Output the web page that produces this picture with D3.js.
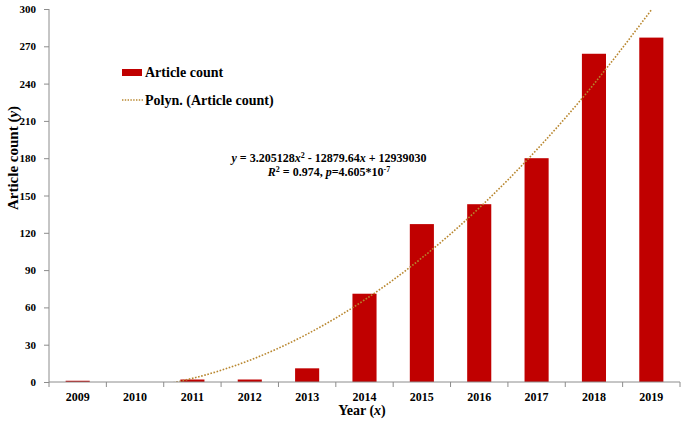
<!DOCTYPE html>
<html><head><meta charset="utf-8">
<script src="https://cdn.jsdelivr.net/npm/d3@7/dist/d3.min.js"></script>
<style>
body{margin:0;background:#fff;}
text{font-family:"Liberation Serif","Times New Roman",serif;font-weight:bold;fill:#000;}
</style></head><body>
<svg id="c" width="685" height="425"></svg>
<script>
const years = ["2009","2010","2011","2012","2013","2014","2015","2016","2017","2018","2019"];
const counts = [1,0,2,2,11,71,127,143,180,264,277];
// polynomial trendline values at each year (negatives are clipped by the axis)
const trendValues = [-7.1,-5.2,2.9,17.5,38.5,66.0,99.8,140.0,186.7,239.7,299.2];
const yTicks = [0,30,60,90,120,150,180,210,240,270,300];

const svg = d3.select("#c");
const L = 49, R = 680, T = 9, B = 382;
const x = d3.scaleBand().domain(years).range([L,R]).paddingInner(0.58).paddingOuter(0.29);
const y = d3.scaleLinear().domain([0,300]).range([B,T]);
const axisColor = "#8c8c8c";

svg.append("defs").append("clipPath").attr("id","plot")
  .append("rect").attr("x",L).attr("y",T).attr("width",R-L).attr("height",B-T);

// bars
svg.append("g").selectAll("rect").data(years).join("rect")
  .attr("x",d=>x(d)).attr("width",x.bandwidth())
  .attr("y",(d,i)=>y(counts[i])).attr("height",(d,i)=>B-y(counts[i]))
  .attr("fill","#C00000");

// trend line
const cx = d=>x(d)+x.bandwidth()/2;
const line = d3.line().x((d,i)=>cx(years[i])).y(d=>y(d)).curve(d3.curveNatural);
svg.append("path").attr("d",line(trendValues)).attr("clip-path","url(#plot)")
  .attr("fill","none").attr("stroke","#B8862E").attr("stroke-width",1.6)
  .attr("stroke-dasharray","1.6,1.6");

// y axis
const ya = svg.append("g").attr("transform",`translate(${L},0)`)
  .call(d3.axisLeft(y).tickValues(yTicks).tickSize(5).tickPadding(8));
ya.select(".domain").attr("stroke",axisColor).attr("d",`M0,${T}V${B}`);
ya.selectAll(".tick line").attr("stroke",axisColor);
ya.selectAll(".tick text").style("font-size","11px");
ya.attr("font-family",null).attr("font-size",null);

// x axis
const xa = svg.append("g").attr("transform",`translate(0,${B})`)
  .call(d3.axisBottom(x).tickSize(0).tickPadding(10));
xa.select(".domain").attr("stroke",axisColor).attr("d",`M${L},0H${R}`);
xa.selectAll(".tick text").style("font-size","12px");
xa.attr("font-family",null).attr("font-size",null);
const bounds = years.map((d,i)=>L + i*x.step()).concat([R]);
xa.selectAll(".bt").data(bounds).join("line").attr("class","bt")
  .attr("x1",d=>d).attr("x2",d=>d).attr("y1",0).attr("y2",5).attr("stroke",axisColor);

// axis titles
svg.append("text").attr("x",362).attr("y",415).attr("text-anchor","middle")
  .style("font-size","14px").html('Year (<tspan font-style="italic">x</tspan>)');
svg.append("text").attr("transform","translate(18,158) rotate(-90)").attr("text-anchor","middle")
  .style("font-size","15px").html('Article count (<tspan font-style="italic">y</tspan>)');

// legend
svg.append("rect").attr("x",122).attr("y",69).attr("width",20).attr("height",7).attr("fill","#C00000");
svg.append("text").attr("x",145).attr("y",77).style("font-size","14px").text("Article count");
svg.append("line").attr("x1",122).attr("x2",143).attr("y1",100).attr("y2",100)
  .attr("stroke","#B8862E").attr("stroke-width",1.4).attr("stroke-dasharray","1.4,1.4");
svg.append("text").attr("x",145).attr("y",105).style("font-size","14px").text("Polyn. (Article count)");

// equation
svg.append("text").attr("x",329).attr("y",162).attr("text-anchor","middle").style("font-size","12px")
  .html('<tspan font-style="italic">y</tspan> = 3.205128<tspan font-style="italic">x</tspan><tspan dy="-4" font-size="8px">2</tspan><tspan dy="4"> - 12879.64</tspan><tspan font-style="italic">x</tspan> + 12939030');
svg.append("text").attr("x",329).attr("y",176).attr("text-anchor","middle").style("font-size","12px")
  .html('<tspan font-style="italic">R</tspan><tspan dy="-4" font-size="8px">2</tspan><tspan dy="4"> = 0.974, </tspan><tspan font-style="italic">p</tspan>=4.605*10<tspan dy="-4" font-size="8px">-7</tspan>');
</script></body></html>
